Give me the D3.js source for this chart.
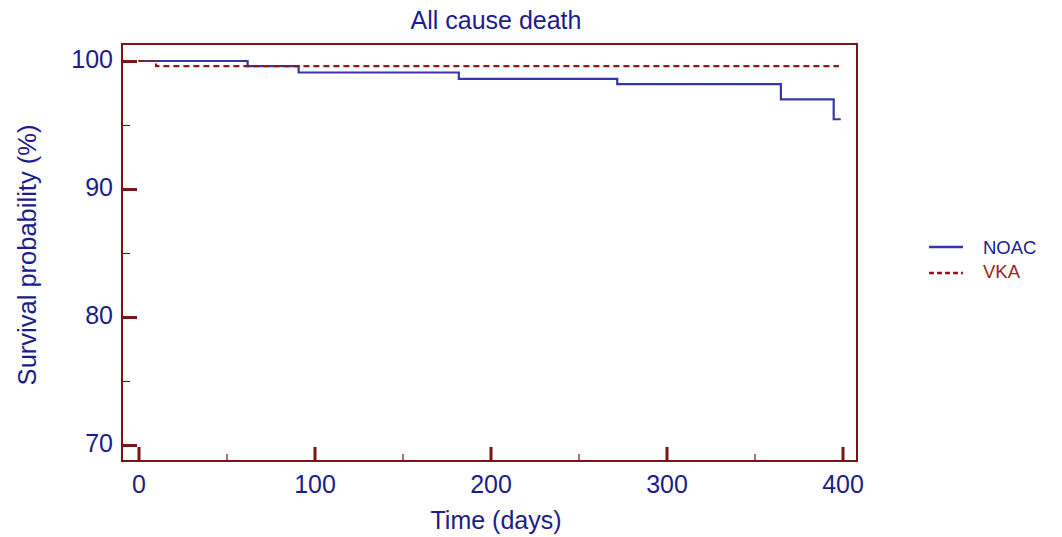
<!DOCTYPE html>
<html>
<head>
<meta charset="utf-8">
<script src="https://cdn.jsdelivr.net/npm/d3@7"></script>
<style>
  body { margin: 0; background: #fff; }
  svg { display: block; }
</style>
</head>
<body>
<svg id="chart" width="1062" height="537"></svg>
<script>
// Kaplan-Meier steps (time in days, survival %)
var noacTime = [0, 62, 91, 182, 272, 365, 395, 399]
var noacSurv = [100, 99.6, 99.1, 98.6, 98.2, 97.0, 95.45, 95.45]
var vkaTime = [0, 10, 398]
var vkaSurv = [100, 99.6, 99.6]

var xTicks = [0, 100, 200, 300, 400]
var xMinor = [50, 150, 250, 350]
var yTicks = [70, 80, 90, 100]
var yMinor = [75, 85, 95]

var seriesNames = ["NOAC", "VKA"]

var frameColor = "#7b1414",
    textBlue = "#1c1c8e",
    lineBlue = "#3636a8",
    lineRed = "#8c1a1a",
    font = "Liberation Sans, Arial, sans-serif"

var svg = d3.select("#chart")

// plot frame
var box = {left: 122, right: 857, top: 44, bottom: 461}

var x = d3.scaleLinear().domain([0, 400]).range([138.5, 842.5])
var y = d3.scaleLinear().domain([70, 100]).range([445, 61])

svg.append("rect")
  .attr("x", box.left).attr("y", box.top)
  .attr("width", box.right - box.left)
  .attr("height", box.bottom - box.top)
  .attr("fill", "none")
  .attr("stroke", frameColor)
  .attr("stroke-width", 2)

//------------------------------------------------------------------------------
// Axes (ticks point inward)
//------------------------------------------------------------------------------
function styleAxis(g, w) {
  g.select(".domain").remove()
  g.selectAll("line").attr("stroke", frameColor).attr("stroke-width", w)
  g.selectAll("text")
    .attr("fill", textBlue)
    .attr("font-family", font)
    .attr("font-size", 25)
}

svg.append("g")
  .attr("transform", "translate(0," + box.bottom + ")")
  .call(d3.axisBottom(x).tickValues(xTicks).tickSizeInner(-14).tickPadding(14))
  .call(styleAxis, 3)

svg.append("g")
  .attr("transform", "translate(0," + box.bottom + ")")
  .call(d3.axisBottom(x).tickValues(xMinor).tickSizeInner(-7).tickFormat(""))
  .call(styleAxis, 1.2)

svg.append("g")
  .attr("transform", "translate(" + box.left + ",0)")
  .call(d3.axisLeft(y).tickValues(yTicks).tickSizeInner(-15).tickPadding(9))
  .call(styleAxis, 3)
  .selectAll("text").attr("dy", "0.25em")

svg.append("g")
  .attr("transform", "translate(" + box.left + ",0)")
  .call(d3.axisLeft(y).tickValues(yMinor).tickSizeInner(-8).tickFormat(""))
  .call(styleAxis, 1.2)

//------------------------------------------------------------------------------
// Survival curves
//------------------------------------------------------------------------------
var step = d3.line()
  .x(function(d){ return x(d[0]) })
  .y(function(d){ return y(d[1]) })
  .curve(d3.curveStepAfter)

svg.append("path")
  .datum(d3.zip(noacTime, noacSurv))
  .attr("d", step)
  .attr("fill", "none")
  .attr("stroke", lineBlue)
  .attr("stroke-width", 2.2)

svg.append("path")
  .datum(d3.zip(vkaTime, vkaSurv))
  .attr("d", step)
  .attr("fill", "none")
  .attr("stroke", lineRed)
  .attr("stroke-width", 2.2)
  .attr("stroke-dasharray", "6,4")

//------------------------------------------------------------------------------
// Titles
//------------------------------------------------------------------------------
svg.append("text")
  .attr("x", 496).attr("y", 29)
  .attr("text-anchor", "middle")
  .attr("font-family", font).attr("font-size", 25)
  .attr("fill", textBlue)
  .text("All cause death")

svg.append("text")
  .attr("x", 496).attr("y", 529)
  .attr("text-anchor", "middle")
  .attr("font-family", font).attr("font-size", 25)
  .attr("fill", textBlue)
  .text("Time (days)")

svg.append("text")
  .attr("transform", "translate(36,255) rotate(-90)")
  .attr("text-anchor", "middle")
  .attr("font-family", font).attr("font-size", 25.5)
  .attr("fill", textBlue)
  .text("Survival probability (%)")

//------------------------------------------------------------------------------
// Legend
//------------------------------------------------------------------------------
var legendColors = [lineBlue, lineRed],
    legendText = [textBlue, "#9a2222"],
    legendDash = [null, "5,3"],
    legendLineY = [247, 273],
    legendTextY = [254, 278]

seriesNames.forEach(function(name, i){
  svg.append("line")
    .attr("x1", 929).attr("x2", 963)
    .attr("y1", legendLineY[i]).attr("y2", legendLineY[i])
    .attr("stroke", legendColors[i])
    .attr("stroke-width", 2.4)
    .attr("stroke-dasharray", legendDash[i])
  svg.append("text")
    .attr("x", 983).attr("y", legendTextY[i])
    .attr("font-family", font)
    .attr("font-size", 18.5)
    .attr("fill", legendText[i])
    .text(name)
})
</script>
</body>
</html>
